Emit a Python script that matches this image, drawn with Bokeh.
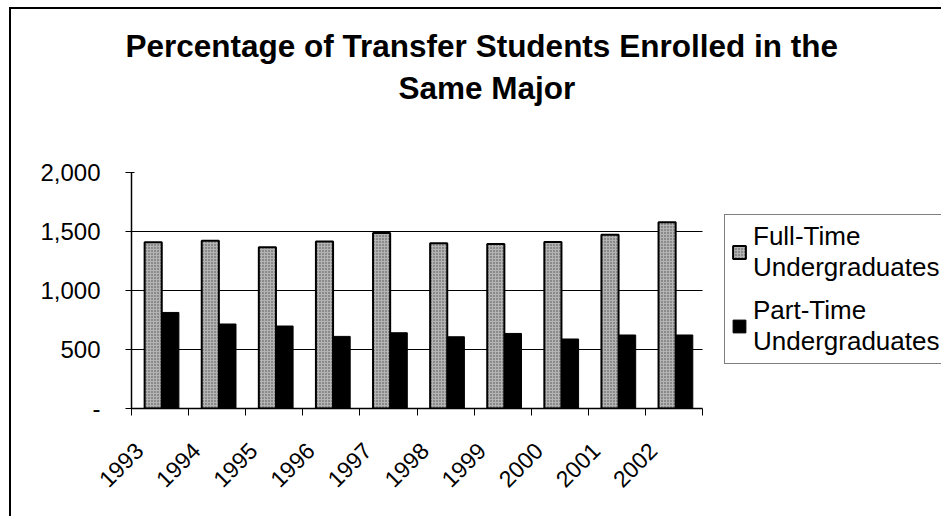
import math
from bokeh.plotting import figure
from bokeh.models import (ColumnDataSource, FixedTicker, Legend, LegendItem, Title,
                          NumeralTickFormatter, BoxAnnotation)
from bokeh.transform import dodge
from bokeh.embed import file_html
from bokeh.resources import INLINE

# ---- data ----
years = ["1993", "1994", "1995", "1996", "1997", "1998", "1999", "2000", "2001", "2002"]
full_time = [1408, 1422, 1366, 1416, 1488, 1400, 1394, 1411, 1473, 1578]
part_time = [814, 716, 699, 611, 642, 608, 636, 589, 623, 623]
y_ticks = [0, 500, 1000, 1500, 2000]
title_lines = ["Percentage of Transfer Students Enrolled in the", "Same Major"]
series_names = ["Full-Time\nUndergraduates", "Part-Time\nUndergraduates"]

idx = list(range(len(years)))
src = ColumnDataSource(dict(idx=idx, year=years, ft=full_time, pt=part_time))

FONT = "Liberation Sans"

# layout (pixels): plot area 131..702 for the categories; frame continues to the right edge
W, H = 941, 516
LEFT, TOP, BOTTOM = 131, 172, 108
CAT_W = 571
frame_w = W - LEFT
x_start = -0.5
x_end = x_start + len(years) * frame_w / CAT_W

p = figure(width=W, height=H, output_backend="svg", toolbar_location=None,
           x_range=(x_start, x_end), y_range=(0, 2000),
           min_border_left=LEFT, min_border_right=0, min_border_top=TOP, min_border_bottom=BOTTOM)
p.title = None
p.outline_line_color = None
p.border_fill_color = None
p.background_fill_color = "white"
p.styles = {
    "background": "linear-gradient(#000,#000) 9px 7px / 2px 100% no-repeat, "
                  "linear-gradient(#000,#000) 9px 7px / 100% 2px no-repeat, #fff",
}

r_ft = p.vbar(x=dodge("idx", -0.12, range=p.x_range), top="ft", width=0.30, source=src,
              fill_color="#b4b4b4", hatch_pattern="dot", hatch_color="#4a4a4a",
              hatch_scale=3, hatch_weight=1, line_color="black", line_width=2)
r_pt = p.vbar(x=dodge("idx", 0.18, range=p.x_range), top="pt", width=0.30, source=src,
              fill_color="black", line_color="black", line_width=1)

# blank the grid to the right of the category area (legend area)
p.add_layout(BoxAnnotation(left=len(years) - 0.5, fill_color="white", fill_alpha=1,
                           line_color=None, level="underlay"))

# x axis: labels set a little left of each category centre, ticks between categories
label_pos = [i - 0.37 for i in idx]
xa = p.xaxis[0]
xa.bounds = (x_start, len(years) - 0.5)
xa.ticker = FixedTicker(ticks=label_pos, minor_ticks=[i - 0.5 for i in range(len(years) + 1)])
xa.major_label_overrides = {lp: y for lp, y in zip(label_pos, years)}
xa.major_tick_line_color = None
xa.minor_tick_line_color = "black"
xa.minor_tick_out = 7
xa.minor_tick_in = 0
xa.axis_line_color = "black"
xa.axis_line_width = 1.5
xa.major_label_orientation = math.pi / 4
xa.major_label_text_font = FONT
xa.major_label_text_font_size = "23px"
xa.major_label_text_color = "black"
xa.major_label_standoff = 31

ya = p.yaxis[0]
ya.ticker = FixedTicker(ticks=y_ticks)
ya.formatter = NumeralTickFormatter(format="0,0")
ya.major_label_overrides = {0: "-"}
ya.minor_tick_line_color = None
ya.major_tick_out = 6
ya.major_tick_in = 3
ya.major_tick_line_color = "black"
ya.axis_line_color = "black"
ya.axis_line_width = 1.5
ya.major_label_text_font = FONT
ya.major_label_text_font_size = "24px"
ya.major_label_text_color = "black"
ya.major_label_standoff = 25

p.xgrid.grid_line_color = None
p.ygrid.ticker = FixedTicker(ticks=y_ticks)
p.ygrid.grid_line_color = "black"
p.ygrid.grid_line_width = 1

# title: two lines stacked in the top panel (first added sits closest to the frame)
p.add_layout(Title(text=" ", text_font_size="10px", standoff=54), "above")
p.add_layout(Title(text=title_lines[1], align="left", offset=267, standoff=0,
                   text_font=FONT, text_font_style="bold", text_font_size="31.5px",
                   text_color="black"), "above")
p.add_layout(Title(text=title_lines[0], align="left", offset=-6, standoff=8,
                   text_font=FONT, text_font_style="bold", text_font_size="31.5px",
                   text_color="black"), "above")

legend = Legend(items=[LegendItem(label=series_names[0], renderers=[r_ft]),
                       LegendItem(label=series_names[1], renderers=[r_pt])],
                location=(724 - LEFT, H - BOTTOM - 364), orientation="vertical",
                label_text_font=FONT, label_text_font_size="26px", label_text_color="black",
                label_text_line_height=1.0,
                glyph_width=16, glyph_height=16, label_standoff=6,
                padding=6, spacing=12, margin=0,
                border_line_color="black", border_line_width=1.5,
                background_fill_color="white", background_fill_alpha=1)
p.add_layout(legend, "center")

open("out.html", "w").write(file_html(p, INLINE))
